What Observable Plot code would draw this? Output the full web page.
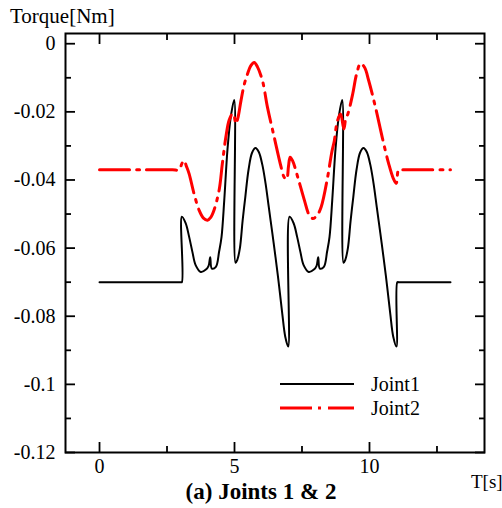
<!DOCTYPE html>
<html>
<head>
<meta charset="utf-8">
<script src="https://cdn.jsdelivr.net/npm/d3@7"></script>
<script src="https://cdn.jsdelivr.net/npm/@observablehq/plot@0.6"></script>
<style>
  html, body { margin: 0; padding: 0; background: white; }
</style>
</head>
<body>
<div id="chart"></div>
<script>
// Joint1 torque (black, solid)
const joint1T = [0, 1.5, 2.8, 3.0, 3.05, 3.05, 3.19, 3.32, 3.44, 3.56, 3.75, 3.94, 4.04, 4.10, 4.16, 4.31, 4.43, 4.52, 4.62, 4.74, 4.86, 4.99,
  5.04, 5.10, 5.20, 5.30, 5.40, 5.52, 5.65, 5.78, 5.90, 6.03, 6.15, 6.27, 6.40, 6.52, 6.65, 6.77, 6.88, 6.99,
  7.04, 7.19, 7.32, 7.44, 7.56, 7.75, 7.94, 8.04, 8.10, 8.16, 8.31, 8.43, 8.52, 8.62, 8.74, 8.86, 8.99,
  9.04, 9.10, 9.20, 9.30, 9.40, 9.52, 9.65, 9.78, 9.90, 10.03, 10.15, 10.27, 10.40, 10.52, 10.65, 10.77, 10.88, 11.00,
  11.03, 11.08, 12.0, 13.0];
const joint1V = [-0.07, -0.07, -0.07, -0.07, -0.07, -0.0508, -0.0527, -0.0567, -0.0611, -0.065, -0.067, -0.0663, -0.0652, -0.0627, -0.066, -0.0655, -0.061, -0.0567, -0.046, -0.031, -0.0216, -0.0165,
  -0.0643, -0.0635, -0.060, -0.052, -0.045, -0.037, -0.032, -0.0306, -0.0318, -0.0355, -0.041, -0.048, -0.0555, -0.0627, -0.071, -0.0793, -0.086, -0.0889,
  -0.0508, -0.0527, -0.0567, -0.0611, -0.065, -0.067, -0.0663, -0.0652, -0.0627, -0.066, -0.0655, -0.061, -0.0567, -0.046, -0.031, -0.0216, -0.0165,
  -0.0643, -0.0635, -0.060, -0.052, -0.045, -0.037, -0.032, -0.0306, -0.0318, -0.0355, -0.041, -0.048, -0.0555, -0.0627, -0.071, -0.0793, -0.086, -0.0889,
  -0.07, -0.07, -0.07, -0.07];

// Joint2 torque (red, dash-dot)
const joint2T = [0, 1.5, 2.7, 2.95, 3.05, 3.13, 3.22, 3.32, 3.50, 3.69, 3.85, 4.00, 4.12, 4.24, 4.43, 4.55, 4.68, 4.80, 4.93, 4.98, 5.05, 5.12,
  5.24, 5.36, 5.48, 5.60, 5.73, 5.85, 6.04, 6.22, 6.47, 6.72, 6.84, 6.93, 7.00, 7.06, 7.15, 7.34, 7.59, 7.75, 7.90, 8.05,
  8.21, 8.45, 8.60, 8.70, 8.80, 8.93, 9.05, 9.12, 9.20, 9.38, 9.52, 9.67, 9.82, 9.97, 10.22, 10.47, 10.71, 10.88, 10.99, 11.08, 11.2, 12.2, 13.0];
const joint2V = [-0.037, -0.037, -0.037, -0.037, -0.0352, -0.0343, -0.036, -0.0382, -0.044, -0.0489, -0.0512, -0.0518, -0.051, -0.0489, -0.043, -0.0352, -0.0274, -0.0225, -0.0205, -0.021, -0.0235, -0.022,
  -0.0167, -0.012, -0.0089, -0.0065, -0.0055, -0.0068, -0.011, -0.0186, -0.0274, -0.036, -0.0392, -0.0398, -0.036, -0.0333, -0.0343, -0.0391, -0.046, -0.050, -0.0513, -0.0505,
  -0.0479, -0.0391, -0.032, -0.0284, -0.023, -0.0206, -0.025, -0.022, -0.0206, -0.0147, -0.009, -0.0058, -0.007, -0.0108, -0.0186, -0.0274, -0.0352, -0.0395, -0.041, -0.037, -0.037, -0.037, -0.037];

const xMajor = [0, 5, 10];
const xMinor = [2.5, 7.5, 12.5];
const yMajor = [0, -0.02, -0.04, -0.06, -0.08, -0.1, -0.12];
const yMinor = [-0.01, -0.03, -0.05, -0.07, -0.09, -0.11];

const joint1 = joint1T.map((t, i) => ({t, v: joint1V[i]}));
const joint2 = joint2T.map((t, i) => ({t, v: joint2V[i]}));

const blank = () => "";
const tk = {label: null, tickFormat: blank, strokeWidth: 1.8};

const svg = Plot.plot({
  width: 502,
  height: 508,
  marginLeft: 65,
  marginRight: 18,
  marginTop: 33,
  marginBottom: 56,
  x: {domain: [-1.26, 14.26]},
  y: {domain: [-0.12, 0.003]},
  style: "font-family: Liberation Serif; font-size: 20px; color: black; background: white;",
  marks: [
    Plot.axisX(xMajor, {anchor: "bottom", tickSize: -10, ...tk}),
    Plot.axisX(xMinor, {anchor: "bottom", tickSize: -6, ...tk}),
    Plot.axisX(xMajor, {anchor: "top", tickSize: -10, ...tk}),
    Plot.axisX(xMinor, {anchor: "top", tickSize: -6, ...tk}),
    Plot.axisY(yMajor, {anchor: "left", tickSize: -10, ...tk}),
    Plot.axisY(yMinor, {anchor: "left", tickSize: -6, ...tk}),
    Plot.axisY(yMajor, {anchor: "right", tickSize: -10, ...tk}),
    Plot.axisY(yMinor, {anchor: "right", tickSize: -6, ...tk}),
    Plot.axisX(xMajor, {anchor: "bottom", tickSize: 0, tickPadding: 6, label: null, fontSize: 20, tickFormat: d => String(d)}),
    Plot.axisY(yMajor, {anchor: "left", tickSize: 0, tickPadding: 10, label: null, fontSize: 20, tickFormat: d => String(d)}),
    Plot.line(joint1, {x: "t", y: "v", stroke: "black", strokeWidth: 2, curve: "catmull-rom"}),
    Plot.line(joint2, {x: "t", y: "v", stroke: "#ff0000", strokeWidth: 3, strokeDasharray: "30,7,3,7", curve: "catmull-rom"}),
    Plot.frame({stroke: "black", strokeWidth: 2})
  ]
});

const s = d3.select(svg);
s.attr("font-family", "Liberation Serif");
function label(x, y, txt, size, opts = {}) {
  return s.append("text")
    .attr("x", x).attr("y", y)
    .attr("text-anchor", opts.anchor || "start")
    .attr("font-size", size)
    .attr("font-weight", opts.bold ? "bold" : "normal")
    .attr("fill", "black")
    .text(txt);
}
label(10, 23, "Torque[Nm]", 21);
label(471, 488, "T[s]", 19);
label(261, 499, "(a) Joints 1 & 2", 23, {anchor: "middle", bold: true});
// legend
s.append("line").attr("x1", 280).attr("x2", 354).attr("y1", 384).attr("y2", 384).attr("stroke", "black").attr("stroke-width", 2);
s.append("line").attr("x1", 280).attr("x2", 354).attr("y1", 408).attr("y2", 408).attr("stroke", "#ff0000").attr("stroke-width", 3).attr("stroke-dasharray", "32,6,3,7");
label(371, 391, "Joint1", 20);
label(371, 415, "Joint2", 20);

s.selectAll("text").attr("font-family", "Liberation Serif").style("font-family", "Liberation Serif");

document.getElementById("chart").appendChild(svg);
</script>
</body>
</html>
